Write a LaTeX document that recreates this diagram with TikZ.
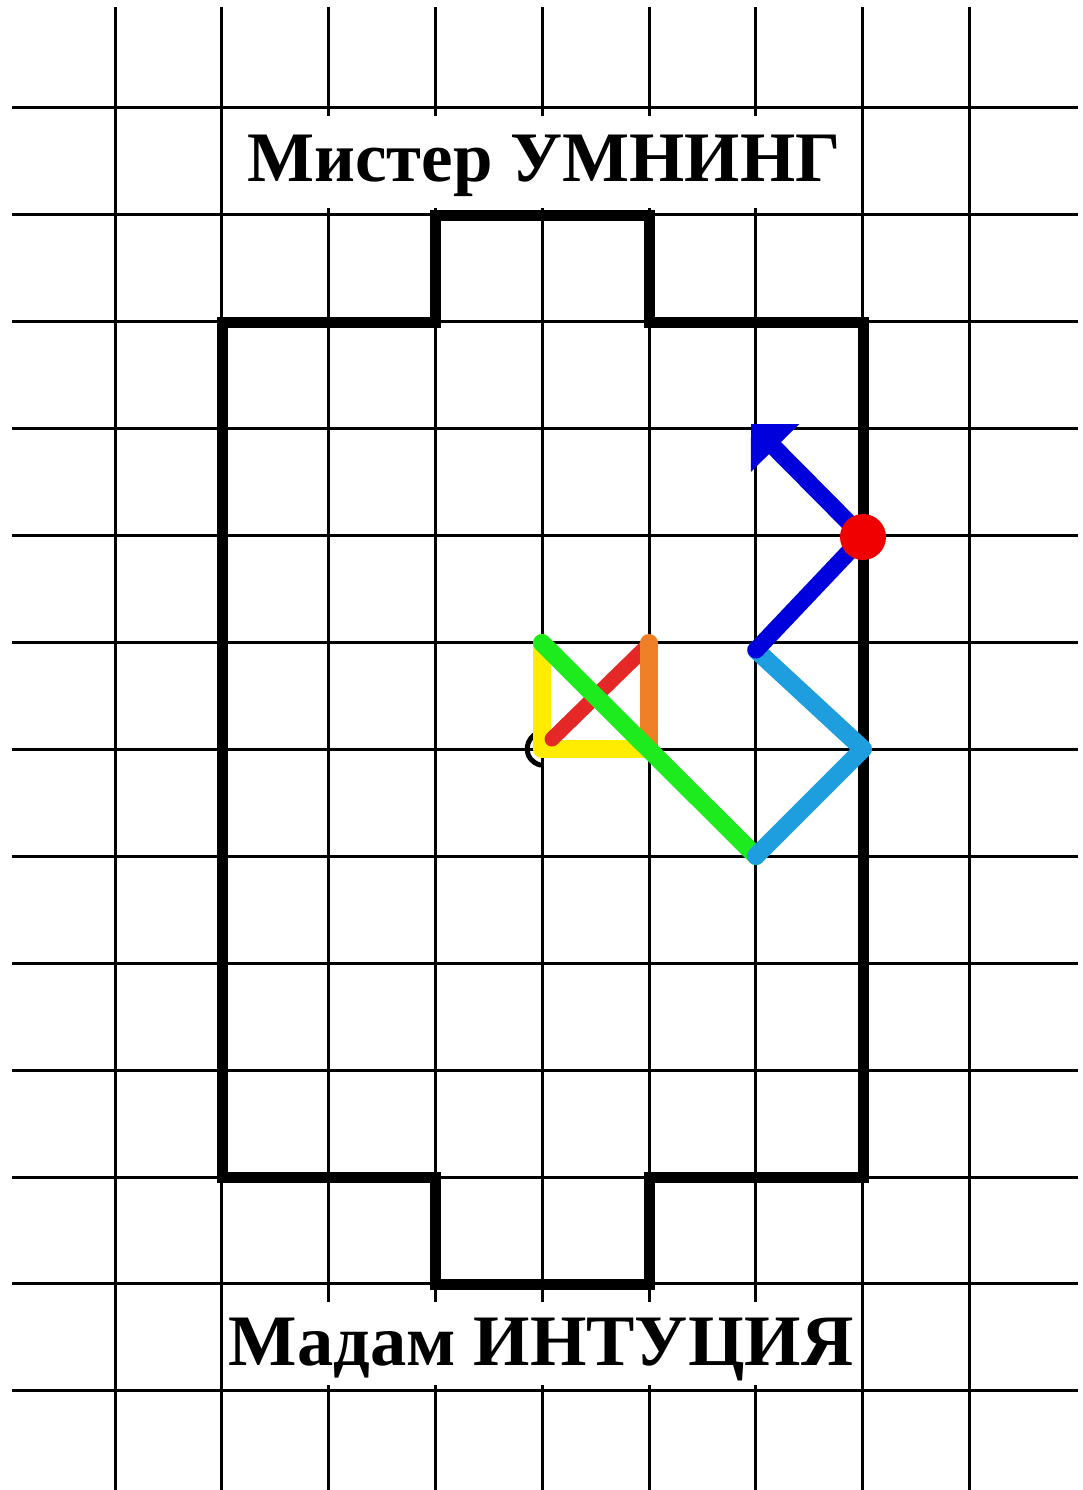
\documentclass[tikz,border=0pt]{standalone}
\usepackage{fontspec}
\setmainfont{Liberation Serif}
\usetikzlibrary{arrows.meta}
\begin{document}
\begin{tikzpicture}[x=1pt,y=-1pt,
  gridline/.style={line width=3pt,black},
  outline/.style={line width=11pt,black,line join=miter,line cap=rect},
  colline/.style={line width=18pt,line cap=round,line join=round},
  labelbox/.style={fill=white,draw=none},
  labeltext/.style={font=\bfseries\fontsize{71}{76}\selectfont,inner sep=0pt,anchor=base}]
\useasboundingbox[fill=white] (0,0) rectangle (1082,1490);
% grid
\foreach \i in {0,...,8}{
  \draw[gridline] ({115+106.8*\i},7) -- ({115+106.8*\i},1490);
}
\foreach \j in {0,...,12}{
  \draw[gridline] (12,{108+106.9*\j}) -- (1078,{108+106.9*\j});
}
% label boxes
\fill[labelbox] (226,116) rectangle (859,208);
\fill[labelbox] (226,1302) rectangle (859,1385);
\node[labeltext] (top) at (544,182) {Мистер УМНИНГ};
\node[labeltext,font=\bfseries\fontsize{72.5}{78}\selectfont] (bot) at (541,1365) {Мадам ИНТУЦИЯ};
% outline
\draw[outline] (222,322) -- (435,322) -- (435,215) -- (649,215) -- (649,322) -- (863,322)
  -- (863,1177) -- (649,1177) -- (649,1284) -- (435,1284) -- (435,1177) -- (222,1177) -- cycle;
% coloured path
\coordinate (A) at (542,643);
\coordinate (B) at (542,749);
\coordinate (C) at (649,749);
\coordinate (D) at (649,643);
\coordinate (E) at (756,856);
\coordinate (F) at (863,749);
\coordinate (G) at (756,650);
\coordinate (H) at (863,537);
\coordinate (K) at (751,424);
\draw[line width=5pt,line cap=round] (534,735) .. controls (524,743) and (524,760) .. (540,765);
\draw[colline,color={rgb,255:red,255;green,236;blue,0}] (A) -- (B) -- (C);
\draw[colline,line width=15pt,color={rgb,255:red,228;green,40;blue,40}] (552,739) -- (647,646);
\draw[colline,color={rgb,255:red,240;green,128;blue,40}] (D) -- (C);
\draw[colline,color={rgb,255:red,30;green,235;blue,30}] (A) -- (E);
\draw[colline,color={rgb,255:red,30;green,158;blue,222}] (E) -- (F) -- (G);
\draw[colline,line width=17pt,color={rgb,255:red,0;green,0;blue,220}] (G) -- (H);
\draw[line width=17pt,color={rgb,255:red,0;green,0;blue,220},
  -{Triangle[length=34pt,width=66pt]}] (H) -- (K);
\fill[color={rgb,255:red,240;green,0;blue,0}] (H) circle[radius=23];
\end{tikzpicture}
\end{document}
